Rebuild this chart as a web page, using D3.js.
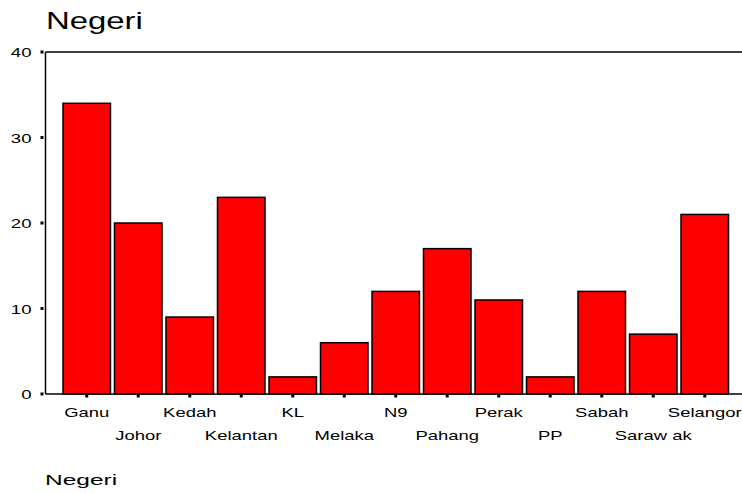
<!DOCTYPE html>
<html><head><meta charset="utf-8">
<script src="https://cdn.jsdelivr.net/npm/d3@7"></script>
<style>body{margin:0;background:#fff}svg{display:block;font-family:"Liberation Sans",Arial,sans-serif}</style>
</head><body><svg id="c" width="742" height="493"></svg>
<script>
const categories = ["Ganu","Johor","Kedah","Kelantan","KL","Melaka","N9","Pahang","Perak","PP","Sabah","Saraw ak","Selangor"];
const values = [34,20,9,23,2,6,12,17,11,2,12,7,21];
const yTicks = [0,10,20,30,40];
const title = "Negeri";
const xTitle = "Negeri";

const svg = d3.select("#c");
const pLeft = 45.5, pTop = 52, pBottom = 394, pRight = 742;
const x = d3.scaleBand().domain(categories).range([63, 728.5]).paddingInner(0.078).paddingOuter(0);
const y = d3.scaleLinear().domain([0,40]).range([pBottom, pTop]);

function addText(g, tx, ty, str, size, anchor, sx) {
  g.append("text")
    .attr("transform", `translate(${tx},${ty}) scale(${sx},1)`)
    .attr("font-size", size).attr("text-anchor", anchor).attr("fill", "#000")
    .text(str);
}

addText(svg, 46, 28.5, title, 23, "start", 1.43);

// frame lines
svg.append("line").attr("x1",pLeft).attr("x2",pRight).attr("y1",pTop).attr("y2",pTop).attr("stroke","#000").attr("stroke-width",1.5);
svg.append("line").attr("x1",pLeft).attr("x2",pLeft).attr("y1",pTop).attr("y2",pBottom).attr("stroke","#000").attr("stroke-width",1.5);

// bars
svg.append("g").selectAll("rect").data(categories).join("rect")
  .attr("x", d => x(d))
  .attr("width", x.bandwidth())
  .attr("y", (d,i) => y(values[i]))
  .attr("height", (d,i) => y(0) - y(values[i]))
  .attr("fill","#ff0000").attr("stroke","#000").attr("stroke-width",1.5);

svg.append("line").attr("x1",pLeft).attr("x2",pRight).attr("y1",pBottom).attr("y2",pBottom).attr("stroke","#000").attr("stroke-width",1.5);

// y axis
const ya = svg.append("g");
yTicks.forEach(t => {
  ya.append("rect").attr("x",40.5).attr("y",y(t)-1.5).attr("width",3).attr("height",3).attr("fill","#000");
  addText(ya, 31.5, y(t)+5, String(t), 13, "end", 1.43);
});

// x axis ticks & labels
const xa = svg.append("g");
categories.forEach((c,i) => {
  const cx = x(c) + x.bandwidth()/2;
  xa.append("rect").attr("x",cx-1.5).attr("y",pBottom+1).attr("width",3).attr("height",2.5).attr("fill","#000");
  addText(xa, cx, i%2===0 ? 416.5 : 440, c, 13, "middle", 1.42);
});

addText(svg, 45, 484.5, xTitle, 14, "start", 1.75);
</script></body></html>
